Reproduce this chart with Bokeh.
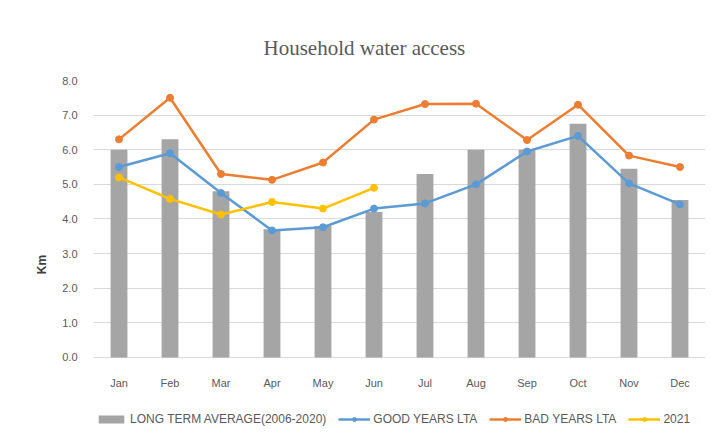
from bokeh.plotting import figure
from bokeh.models import (ColumnDataSource, Legend, LegendItem, Title, Range1d,
                          FixedTicker, CustomJSTickFormatter)
from bokeh.embed import file_html
from bokeh.resources import INLINE

months = ["Jan", "Feb", "Mar", "Apr", "May", "Jun", "Jul", "Aug", "Sep", "Oct", "Nov", "Dec"]
long_term_avg = [6.0, 6.3, 4.8, 3.7, 3.8, 4.2, 5.3, 6.0, 6.0, 6.75, 5.45, 4.55]
good_years = [5.5, 5.9, 4.75, 3.67, 3.76, 4.3, 4.45, 5.0, 5.95, 6.4, 5.03, 4.42]
bad_years = [6.3, 7.5, 5.3, 5.13, 5.63, 6.87, 7.32, 7.33, 6.28, 7.3, 5.83, 5.5]
months_2021 = ["Jan", "Feb", "Mar", "Apr", "May", "Jun"]
y2021 = [5.2, 4.58, 4.13, 4.49, 4.3, 4.9]
y_ticks = [0, 1, 2, 3, 4, 5, 6, 7, 8]

GREY = "#A5A5A5"
BLUE = "#5B9BD5"
ORANGE = "#ED7D31"
YELLOW = "#FFC000"
TXT = "#595959"

p = figure(x_range=months, width=713, height=448, output_backend="svg",
           toolbar_location=None, min_border_left=93, min_border_right=8,
           min_border_top=80, min_border_bottom=0)
p.y_range = Range1d(-2.63, 8)
p.outline_line_color = None
p.background_fill_color = "white"
p.border_fill_color = "white"

src = ColumnDataSource(dict(m=months, lta=long_term_avg, good=good_years, bad=bad_years))
src21 = ColumnDataSource(dict(m=months_2021, v=y2021))

r_bar = p.vbar(x="m", top="lta", width=0.33, source=src, fill_color=GREY, line_color=None)
r_good_l = p.line(x="m", y="good", source=src, line_color=BLUE, line_width=2.5)
r_good_m = p.scatter(x="m", y="good", source=src, size=7, fill_color=BLUE, line_color=BLUE)
r_bad_l = p.line(x="m", y="bad", source=src, line_color=ORANGE, line_width=2.5)
r_bad_m = p.scatter(x="m", y="bad", source=src, size=7, fill_color=ORANGE, line_color=ORANGE)
r_21_l = p.line(x="m", y="v", source=src21, line_color=YELLOW, line_width=2.5)
r_21_m = p.scatter(x="m", y="v", source=src21, size=7, fill_color=YELLOW, line_color=YELLOW)

p.xgrid.grid_line_color = None
p.ygrid.grid_line_color = "#D9D9D9"
p.ygrid.grid_line_width = 1
p.yaxis.ticker = FixedTicker(ticks=y_ticks)
p.yaxis.formatter = CustomJSTickFormatter(code="return tick.toFixed(1);")
p.xaxis.fixed_location = 0

for ax in (p.xaxis[0], p.yaxis[0]):
    ax.axis_line_color = None
    ax.major_tick_line_color = None
    ax.minor_tick_line_color = None
    ax.major_label_text_color = TXT
    ax.major_label_text_font = "Liberation Sans"
    ax.major_label_text_font_size = "11px"
p.xaxis.major_label_standoff = 14
p.yaxis.major_label_standoff = 10
p.yaxis.axis_label = "Km"
p.yaxis.axis_label_text_font = "Liberation Sans"
p.yaxis.axis_label_text_font_style = "bold"
p.yaxis.axis_label_text_font_size = "12px"
p.yaxis.axis_label_text_color = "#404040"
p.yaxis.axis_label_standoff = 10

title = Title(text="Household water access", text_font="Liberation Serif",
              text_font_size="21px", text_color=TXT, text_font_style="normal",
              align="left", offset=170, standoff=42)
p.add_layout(title, "above")

legend = Legend(items=[
    LegendItem(label="LONG TERM AVERAGE(2006-2020)", renderers=[r_bar]),
    LegendItem(label="GOOD YEARS LTA", renderers=[r_good_l, r_good_m]),
    LegendItem(label="BAD YEARS LTA", renderers=[r_bad_l, r_bad_m]),
    LegendItem(label="2021", renderers=[r_21_l, r_21_m]),
], orientation="horizontal", location=(2, 22), border_line_color=None,
   label_text_font="Liberation Sans", label_text_font_size="12px",
   label_text_color=TXT, glyph_width=32, glyph_height=10, spacing=12,
   label_standoff=3, padding=0, margin=0, background_fill_alpha=0)
p.add_layout(legend)

open("out.html", "w").write(file_html(p, INLINE))
